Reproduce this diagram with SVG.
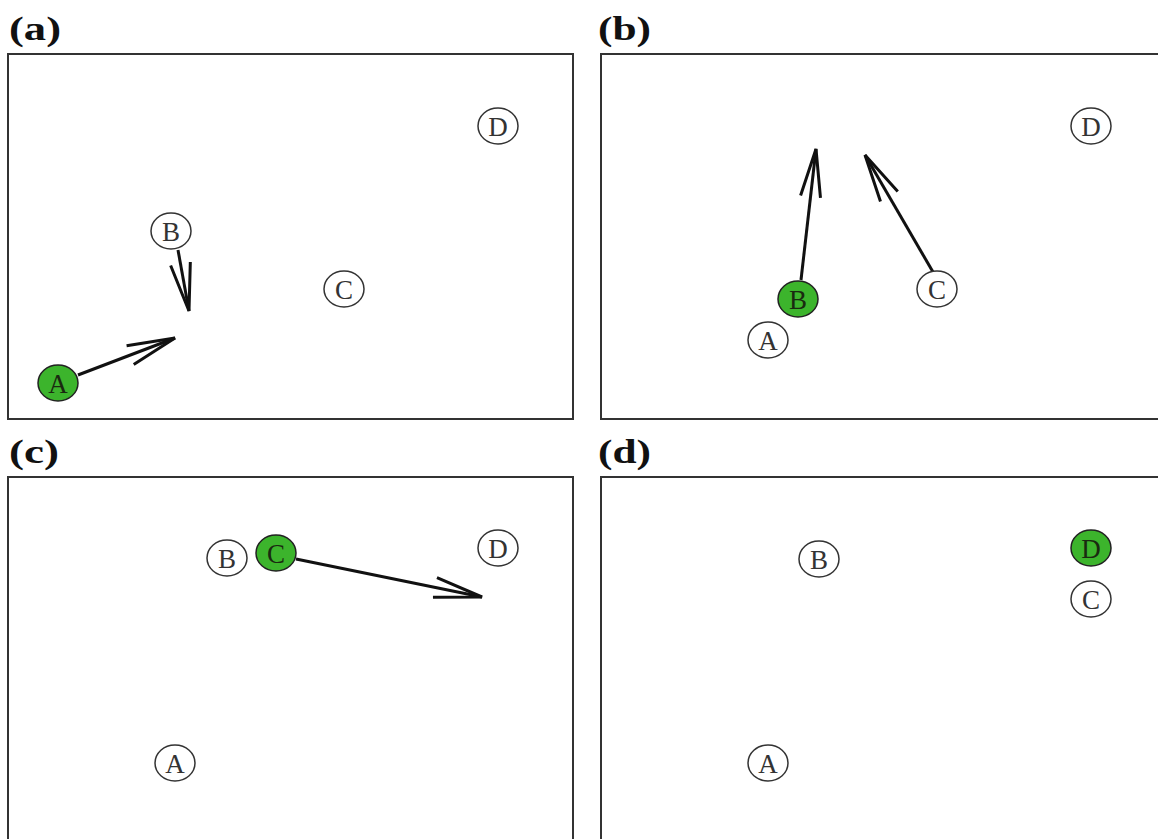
<svg xmlns="http://www.w3.org/2000/svg" width="1158" height="839" viewBox="0 0 1158 839">
<style>
.panel{fill:#fff;stroke:#333;stroke-width:2}
.lab{font-family:"Liberation Serif",serif;font-weight:bold;font-size:34px;fill:#111}
.n ellipse{fill:#fff;stroke:#333;stroke-width:1.5}
.n.g ellipse{fill:#3cb42c;stroke:#222}
.n text{font-family:"Liberation Serif",serif;font-size:27px;fill:#333;text-anchor:middle;dominant-baseline:central}
.n.g text{fill:#1a2a10}
.e{stroke:#111;stroke-width:3;fill:none;marker-end:url(#ah)}
</style>
<defs>
<marker id="ah" markerUnits="userSpaceOnUse" viewBox="-52 -14 56 28" refX="0" refY="0" markerWidth="56" markerHeight="28" orient="auto">
<path d="M-48,-10 L0,0 L-48,10" fill="none" stroke="#111" stroke-width="3"/>
</marker>
</defs>
<rect width="1158" height="839" fill="#fff"/>
<g id="panels">
<rect class="panel" x="8" y="54" width="565" height="365"/>
<rect class="panel" x="601" y="54" width="600" height="365"/>
<rect class="panel" x="8" y="477" width="565" height="400"/>
<rect class="panel" x="601" y="477" width="600" height="400"/>
<text class="lab" x="9" y="40" textLength="52" lengthAdjust="spacingAndGlyphs">(a)</text>
<text class="lab" x="598" y="40" textLength="53" lengthAdjust="spacingAndGlyphs">(b)</text>
<text class="lab" x="9" y="463" textLength="50" lengthAdjust="spacingAndGlyphs">(c)</text>
<text class="lab" x="598" y="463" textLength="53" lengthAdjust="spacingAndGlyphs">(d)</text>
</g>
<g id="connectors">
<line class="e" x1="78" y1="375" x2="175" y2="338"/>
<line class="e" x1="178" y1="250" x2="189" y2="311"/>
<line class="e" x1="801" y1="280" x2="816" y2="149"/>
<line class="e" x1="933" y1="272" x2="865" y2="155"/>
<line class="e" x1="296" y1="559" x2="482" y2="597"/>
</g>
<g id="a-A" class="n g"><ellipse cx="58" cy="383" rx="20" ry="18"/><text x="58" y="384">A</text></g>
<g id="a-B" class="n"><ellipse cx="171" cy="231" rx="20" ry="18"/><text x="171" y="232">B</text></g>
<g id="a-C" class="n"><ellipse cx="344" cy="289" rx="20" ry="18"/><text x="344" y="290">C</text></g>
<g id="a-D" class="n"><ellipse cx="498" cy="126" rx="20" ry="18"/><text x="498" y="127">D</text></g>
<g id="b-A" class="n"><ellipse cx="768" cy="340" rx="20" ry="18"/><text x="768" y="341">A</text></g>
<g id="b-B" class="n g"><ellipse cx="798" cy="299" rx="20" ry="18"/><text x="798" y="300">B</text></g>
<g id="b-C" class="n"><ellipse cx="937" cy="289" rx="20" ry="18"/><text x="937" y="290">C</text></g>
<g id="b-D" class="n"><ellipse cx="1091" cy="126" rx="20" ry="18"/><text x="1091" y="127">D</text></g>
<g id="c-A" class="n"><ellipse cx="175" cy="763" rx="20" ry="18"/><text x="175" y="764">A</text></g>
<g id="c-B" class="n"><ellipse cx="227" cy="558" rx="20" ry="18"/><text x="227" y="559">B</text></g>
<g id="c-C" class="n g"><ellipse cx="276" cy="553" rx="20" ry="18"/><text x="276" y="554">C</text></g>
<g id="c-D" class="n"><ellipse cx="498" cy="548" rx="20" ry="18"/><text x="498" y="549">D</text></g>
<g id="d-A" class="n"><ellipse cx="768" cy="763" rx="20" ry="18"/><text x="768" y="764">A</text></g>
<g id="d-B" class="n"><ellipse cx="819" cy="559" rx="20" ry="18"/><text x="819" y="560">B</text></g>
<g id="d-C" class="n"><ellipse cx="1091" cy="599" rx="20" ry="18"/><text x="1091" y="600">C</text></g>
<g id="d-D" class="n g"><ellipse cx="1091" cy="548" rx="20" ry="18"/><text x="1091" y="549">D</text></g>
</svg>
